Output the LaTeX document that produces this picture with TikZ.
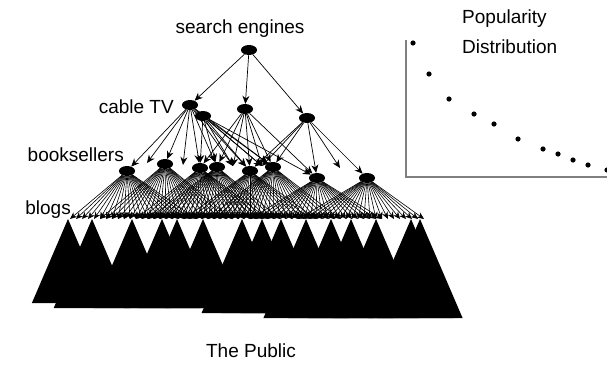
\documentclass[tikz,border=0pt]{standalone}
\usepackage{fontspec}
\setmainfont{Liberation Sans}
\usetikzlibrary{arrows.meta,shapes.geometric}
\begin{document}
\begin{tikzpicture}[x=1pt,y=-1pt,
  lbl/.style={font=\fontsize{19}{22}\selectfont, inner sep=0pt},
  blob/.style={fill=black, ellipse, minimum width=16pt, minimum height=10pt, inner sep=0pt},
  edge/.style={line width=0.7pt, -{Stealth[length=8pt,width=7pt]}},
  fanedge/.style={line width=0.6pt, -{Stealth[length=7pt,width=6pt]}},
  axis/.style={draw=gray, line width=2pt},
  dot/.style={fill=black}
]
\useasboundingbox (0,0) rectangle (607,369);

% labels
\node[lbl] (tse) at (240,29) {search engines};
\node[lbl, anchor=east] (tcab) at (174,107) {cable TV};
\node[lbl, anchor=east] (tbook) at (124,155) {booksellers};
\node[lbl, anchor=east] (tblog) at (71,210) {blogs};
\node[lbl] (tpub) at (251,351) {The Public};
\node[lbl, anchor=west] (tpop) at (462,19) {Popularity};
\node[lbl, anchor=west] (tdist) at (462,47) {Distribution};

% black triangles (the public)
\foreach \ax/\by in {68/303, 92/308, 132/308, 162/308, 177/308, 203/308, 242/313, 262/313, 281/313, 306/318, 331/318, 351/318, 376/318, 411/318, 420/318}
  \fill (\ax,219) -- ({\ax-0.43*(\by-219)},\by) -- ({\ax+0.43*(\by-219)},\by) -- cycle;

% blog points
\foreach \i in {0,...,59}
  \coordinate (b\i) at ({70+6*\i},219);

% nodes
\node[blob] (R) at (249,50) {};
\node[blob] (A1) at (190,105) {};
\node[blob] (A2) at (203,116) {};
\node[blob] (B) at (245,109) {};
\node[blob] (C) at (307,118) {};
\node[blob] (L1) at (127,171) {};
\node[blob] (L2) at (165,164) {};
\node[blob] (L3) at (200,168) {};
\node[blob] (L4) at (217,167) {};
\node[blob] (L5) at (250,171) {};
\node[blob] (L6) at (273,167) {};
\node[blob] (L7) at (317,178) {};
\node[blob] (L8) at (367,178) {};
\coordinate (E1) at (147,163);
\coordinate (E2) at (340,168);
\coordinate (E3) at (233,166);
\coordinate (E4) at (183,165);
\coordinate (E5) at (262,166);

% level 1
\foreach \t in {A1,B,C} \draw[edge] (R) -- (\t);

% level 2
\foreach \t in {L1,E1,L2,E4,L3,L4,E3,L5,E5,L6} \draw[edge] (A1) -- (\t);
\foreach \t in {L3,L4,E3,L5,E5,L6,L7} \draw[edge] (A2) -- (\t);
\foreach \t in {L3,L4,E3,L5,E5,L6,L7} \draw[edge] (B) -- (\t);
\foreach \t in {L5,E5,L6,L7,E2,L8} \draw[edge] (C) -- (\t);

% level 3 fans
\foreach \n/\a/\b in {L1/0/21, L2/5/27, L3/11/33, L4/13/35, L5/19/41, L6/23/45, L7/30/52, L8/38/59}
  \foreach \i in {\a,...,\b}
    \draw[fanedge] (\n) -- (b\i);

% popularity chart
\draw[axis] (406,40) -- (406,177) -- (607,177);
\foreach \px/\py in {413/43, 429/74, 449/99, 474/114, 494/124, 518/139, 543/149, 558/154, 573/160, 588/165, 607/170}
  \fill[dot] (\px,\py) circle (2.6);
\end{tikzpicture}
\end{document}
